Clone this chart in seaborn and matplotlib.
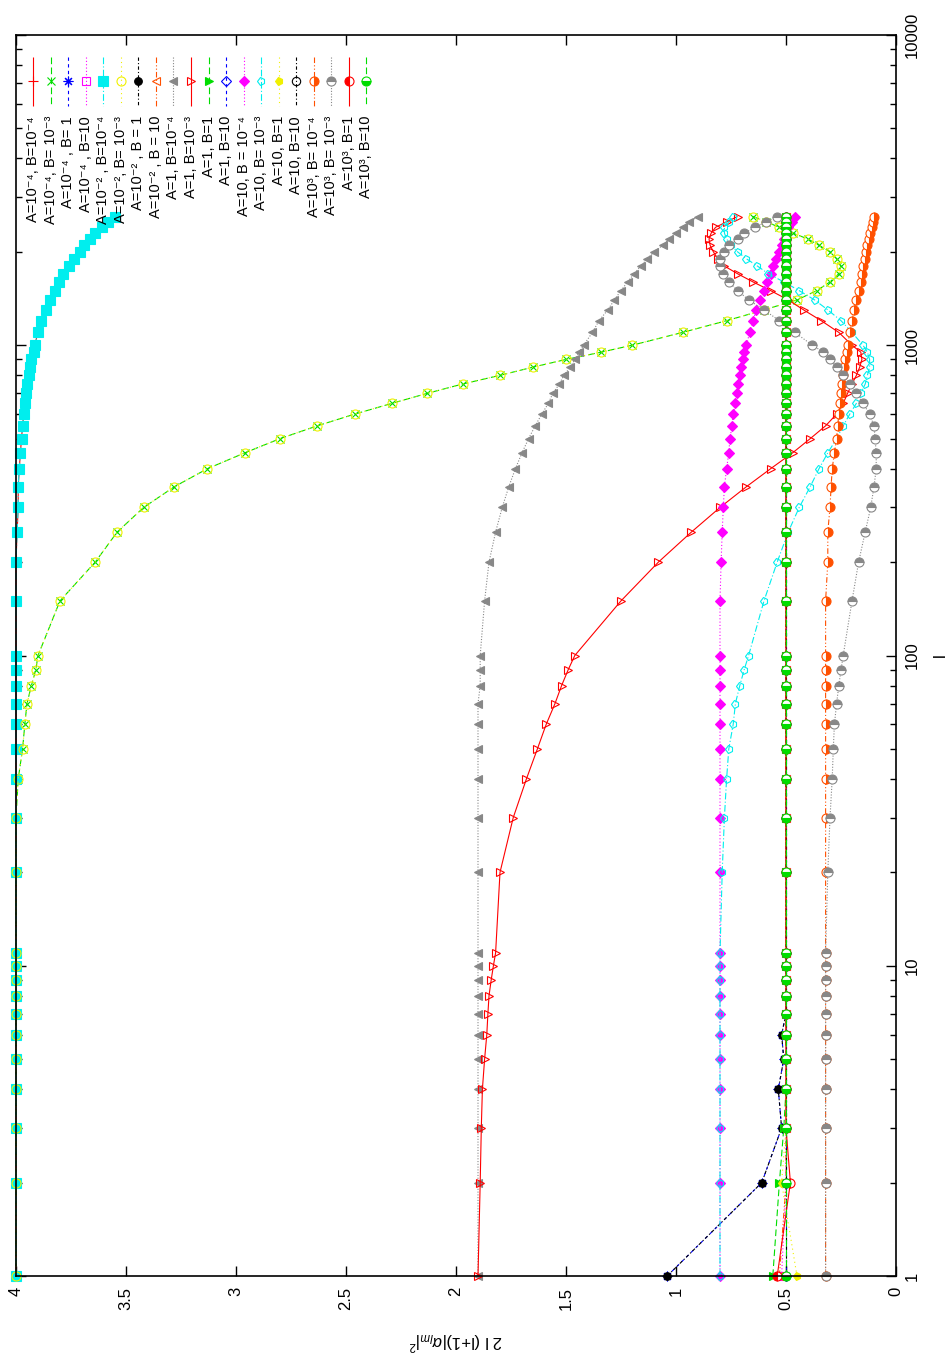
import matplotlib
matplotlib.use("Agg")
import matplotlib.pyplot as plt
import seaborn as sns
from matplotlib.markers import MarkerStyle
from matplotlib.transforms import Affine2D

plt.rcParams['font.family'] = ['Liberation Sans', 'DejaVu Sans']
plt.rcParams['mathtext.fontset'] = 'custom'
plt.rcParams['mathtext.rm'] = 'Liberation Sans'
plt.rcParams['mathtext.it'] = 'Liberation Sans:italic'
plt.rcParams['mathtext.bf'] = 'Liberation Sans:bold'

# multipole l (sampled points)
L = [1, 2, 3, 4, 5, 6, 7, 8, 9, 10, 11,
     20, 30, 40, 50, 60, 70, 80, 90, 100,
     150, 200, 250, 300, 350, 400, 450, 500, 550, 600, 650, 700, 750, 800, 850, 900, 950, 1000,
     1100, 1200, 1300, 1400, 1500, 1600, 1700, 1800, 1900, 2000, 2100, 2200, 2300, 2400, 2500, 2600]

# 2 l (l+1) |alpha_lm|^2 for each (A, B) run
A4_B4 = [4.0] * 22 + [3.995, 3.99, 3.99, 3.985, 3.98, 3.975, 3.97, 3.965, 3.96, 3.955, 3.95, 3.94,
                      3.935, 3.93, 3.92, 3.915,
                      3.9, 3.885, 3.865, 3.845, 3.825, 3.805, 3.785, 3.76, 3.735, 3.71, 3.69, 3.665,
                      3.64, 3.61, 3.58, 3.55]
A4_B3 = [4.0] * 13 + [3.99, 3.97, 3.96, 3.95, 3.93, 3.91, 3.9,
                      3.8, 3.64, 3.54, 3.42, 3.28, 3.13, 2.96, 2.8, 2.63, 2.46, 2.29, 2.13, 1.97, 1.8,
                      1.65, 1.5, 1.34, 1.2,
                      0.97, 0.77, 0.6, 0.45, 0.36, 0.3, 0.26, 0.25, 0.27, 0.3, 0.35, 0.4, 0.47, 0.53,
                      0.59, 0.65]
A4_B0 = [1.04, 0.61, 0.52, 0.535, 0.51, 0.52] + [0.5] * 48
A4_B10 = [0.52] + [0.5] * 53
A2_B4 = A4_B4          # curves coincide
A2_B3 = A4_B3          # curves coincide
A2_B0 = A4_B0          # curves coincide
A2_B10 = [0.53] + [0.5] * 53
A0_B4 = [1.9] * 13 + [1.9, 1.9, 1.9, 1.9, 1.89, 1.89, 1.89,
                      1.87, 1.85, 1.82, 1.79, 1.76, 1.73, 1.7, 1.67, 1.64, 1.61, 1.58, 1.56, 1.53,
                      1.51, 1.48, 1.46, 1.44, 1.42,
                      1.38, 1.35, 1.31, 1.28, 1.25, 1.22, 1.19, 1.16, 1.13, 1.1, 1.06, 1.03, 1.0,
                      0.97, 0.94, 0.9]
A0_B3 = [1.9, 1.89, 1.885, 1.88, 1.87, 1.86, 1.855, 1.85, 1.84, 1.83, 1.82,
         1.8, 1.74, 1.68, 1.63, 1.59, 1.55, 1.52, 1.49, 1.46,
         1.25, 1.08, 0.93, 0.8, 0.68, 0.57, 0.47, 0.39, 0.32, 0.27, 0.24, 0.22, 0.2, 0.18, 0.165,
         0.155, 0.16, 0.2,
         0.26, 0.34, 0.42, 0.49, 0.57, 0.65, 0.72, 0.78, 0.81, 0.83, 0.845, 0.85, 0.84, 0.82,
         0.77, 0.72]
A0_B0 = [0.56, 0.53, 0.51] + [0.5] * 51
A0_B10 = [0.5] * 54
A1_B4 = [0.8] * 21 + [0.795, 0.79, 0.785, 0.78, 0.77, 0.76, 0.755, 0.745, 0.74, 0.73, 0.725, 0.72,
                      0.71, 0.705, 0.695, 0.69, 0.68,
                      0.665, 0.65, 0.635, 0.62, 0.6, 0.585, 0.57, 0.56, 0.545, 0.53, 0.52, 0.51,
                      0.5, 0.49, 0.475, 0.46]
A1_B3 = [0.8] * 11 + [0.79, 0.78, 0.77, 0.76, 0.74, 0.73, 0.71, 0.69, 0.67,
                      0.6, 0.54, 0.49, 0.44, 0.39, 0.35, 0.31, 0.27, 0.24, 0.21, 0.18, 0.16, 0.14,
                      0.13, 0.12, 0.12, 0.13, 0.15,
                      0.2, 0.25, 0.31, 0.37, 0.44, 0.51, 0.58, 0.63, 0.68, 0.72, 0.75, 0.77, 0.78,
                      0.78, 0.76, 0.74]
A1_B0 = [0.45, 0.52] + [0.5] * 52
A1_B10 = [0.5] * 54
A3_B4 = [0.32] * 21 + [0.31, 0.31, 0.3, 0.295, 0.29, 0.28, 0.27, 0.265, 0.26, 0.255, 0.25, 0.245,
                       0.24, 0.235, 0.23, 0.225, 0.22,
                       0.21, 0.2, 0.19, 0.18, 0.17, 0.16, 0.155, 0.15, 0.14, 0.135, 0.13, 0.125,
                       0.12, 0.11, 0.105, 0.1]
A3_B3 = [0.32] * 11 + [0.31, 0.3, 0.29, 0.285, 0.28, 0.27, 0.26, 0.25, 0.24,
                       0.2, 0.17, 0.14, 0.115, 0.1, 0.09, 0.09, 0.095, 0.1, 0.12, 0.15, 0.18, 0.21,
                       0.24, 0.27, 0.3, 0.33, 0.38,
                       0.46, 0.53, 0.6, 0.67, 0.72, 0.76, 0.785, 0.8, 0.8, 0.78, 0.76, 0.72, 0.69,
                       0.64, 0.59, 0.54]
A3_B0 = [0.54, 0.48] + [0.5] * 52
A3_B10 = [0.5] * 54

SERIES = [A4_B4, A4_B3, A4_B0, A4_B10, A2_B4, A2_B3, A2_B0, A2_B10,
          A0_B4, A0_B3, A0_B0, A0_B10, A1_B4, A1_B3, A1_B0, A1_B10,
          A3_B4, A3_B3, A3_B0, A3_B10]

LABELS = ['A=10⁻⁴, B=10⁻⁴', 'A=10⁻⁴, B= 10⁻³', 'A=10⁻⁴ , B= 1', 'A=10⁻⁴ , B=10',
          'A=10⁻² , B=10⁻⁴', 'A=10⁻², B= 10⁻³', 'A=10⁻² , B = 1', 'A=10⁻² , B = 10',
          'A=1, B=10⁻⁴', 'A=1, B=10⁻³', 'A=1, B=1', 'A=1, B=10',
          'A=10, B = 10⁻⁴', 'A=10, B= 10⁻³', 'A=10, B=1', 'A=10, B=10',
          'A=10³, B= 10⁻⁴', 'A=10³, B= 10⁻³', 'A=10³, B=1', 'A=10³, B=10']

XTICKS = [0, 0.5, 1, 1.5, 2, 2.5, 3, 3.5, 4]
XTICKLABELS = ['0', '0.5', '1', '1.5', '2', '2.5', '3', '3.5', '4']
YTICKS = [1, 10, 100, 1000, 10000]
YTICKLABELS = ['1', '10', '100', '1000', '10000']

# gnuplot-like styles: colour, marker, fill
RED, GRN, BLU, MAG, CYN, YEL, BLK, ORG, GRY = ('#ff0000', '#00dd00', '#0000ff', '#ff00ff', '#00eeee',
                                              '#f0f000', '#000000', '#ff5000', '#888888')
pent = MarkerStyle('p', transform=Affine2D().rotate_deg(90))
DASHES = [(0, ()), (0, (6, 3)), (0, (3, 3)), (0, (1, 2)), (0, (6, 2, 1, 2)), (0, (1, 3)),
          (0, (3, 2, 1, 2)), (0, (5, 2, 1, 2, 1, 2)), (0, (1, 1.5))]
STYLES = [
    (RED, '+', 'full'), (GRN, 'x', 'full'), (BLU, (8, 2, 0), 'full'), (MAG, 's', 'none'),
    (CYN, 's', 'full'), (YEL, 'o', 'none'), (BLK, 'o', 'full'), (ORG, '<', 'none'),
    (GRY, '<', 'full'), (RED, '>', 'none'), (GRN, '>', 'full'), (BLU, 'D', 'none'),
    (MAG, 'D', 'full'), (CYN, pent, 'none'), (YEL, pent, 'full'), (BLK, 'o', 'none'),
    (ORG, 'o', 'right'), (GRY, 'o', 'top'), (RED, 'o', 'left'), (GRN, 'o', 'bottom'),
]
SIZES = [7, 6, 7, 6, 6.5, 6.5, 5.5, 6, 6, 6, 6, 5, 5, 5.5, 5.5, 6, 6.5, 6.5, 6.5, 6.5]

W, H = 946, 1366
FL, FR, FT, FB = 16, 896, 35, 1276

fig = plt.figure(figsize=(W / 100, H / 100), dpi=100)
ax = fig.add_axes([FL / W, 1 - FB / H, (FR - FL) / W, (FB - FT) / H])


def style_kws(i):
    c, m, fill = STYLES[i]
    kw = dict(color=c, marker=m, markersize=SIZES[i], markeredgecolor=c, markeredgewidth=0.8,
              linestyle=DASHES[i % 9] if i < 18 else DASHES[i - 18], linewidth=0.8)
    if fill == 'none':
        kw.update(markerfacecolor='none')
    elif fill == 'full':
        kw.update(markerfacecolor=c)
    else:
        kw.update(markerfacecolor=c, fillstyle=fill, markerfacecoloralt='white')
    return kw


for i, vals in enumerate(SERIES):
    sns.lineplot(x=vals, y=L, ax=ax, sort=False, estimator=None, legend=False,
                 clip_on=False, **style_kws(i))

ax.set_yscale('log')
ax.set_xlim(4, 0)
ax.set_ylim(1, 10000)

ax.set_xticks(XTICKS)
ax.set_xticklabels(XTICKLABELS, rotation=90, ha='center', va='top', fontsize=12)
ax.set_yticks(YTICKS)
ax.set_yticklabels(YTICKLABELS, rotation=90, ha='left', va='center', fontsize=12)
ax.yaxis.set_minor_formatter(matplotlib.ticker.NullFormatter())
ax.tick_params(which='both', direction='in', top=True, bottom=True, left=True, right=True,
               labelleft=False, labelright=True, width=1.0, color='black')
ax.tick_params(which='major', length=7, pad=8)
ax.tick_params(axis='y', which='major', pad=6)
ax.tick_params(which='minor', length=4)
for sp in ax.spines.values():
    sp.set_linewidth(1.2)

ax.yaxis.set_label_position('right')
ax.set_ylabel('l', rotation=90, fontsize=12, labelpad=10)
ax.set_xlabel(r'2 l (l+1)|$\alpha_{lm}$|$^2$', rotation=180, fontsize=12, labelpad=14)

# key, drawn the way the rotated gnuplot page shows it: one column per entry
for i, lab in enumerate(LABELS):
    xc = (33 + 17.55 * i - FL) / (FR - FL)
    y0 = 1 - (57 - FT) / (FB - FT)
    y1 = 1 - (106 - FT) / (FB - FT)
    ym = 1 - (81 - FT) / (FB - FT)
    kw = style_kws(i)
    ax.plot([xc, xc], [y0, y1], transform=ax.transAxes, color=kw['color'],
            linestyle=kw['linestyle'], linewidth=0.8, clip_on=False)
    mk = {k: v for k, v in kw.items() if k not in ('linestyle', 'linewidth')}
    ax.plot([xc], [ym], transform=ax.transAxes, linestyle='none', clip_on=False, **mk)
    ax.text(xc, 1 - (116 - FT) / (FB - FT), lab, transform=ax.transAxes, rotation=90,
            rotation_mode='anchor', ha='right', va='center', fontsize=10.5)

fig.savefig('out.png', dpi=100)
